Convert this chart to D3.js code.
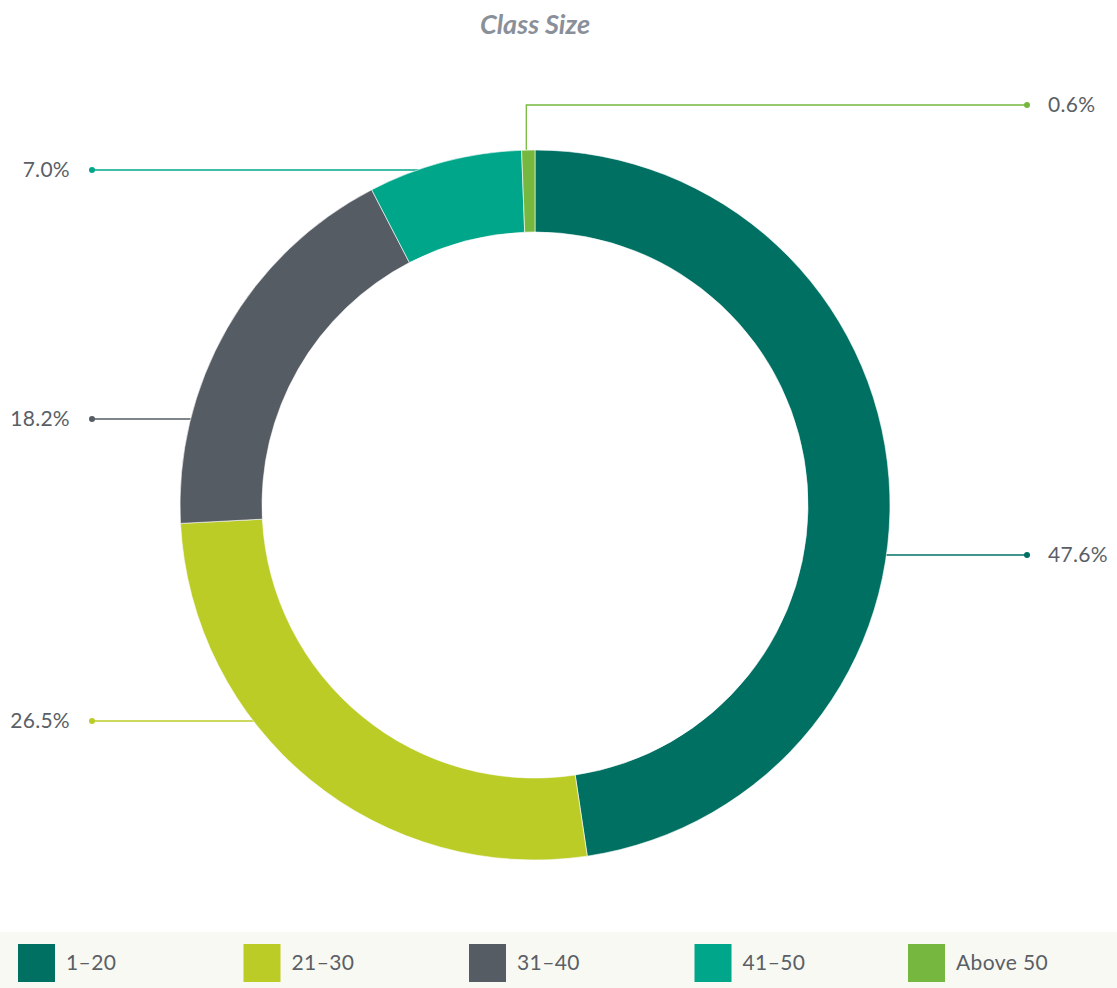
<!DOCTYPE html>
<html>
<head>
<meta charset="utf-8">
<script src="https://cdn.jsdelivr.net/npm/d3@7"></script>
<style>
  body { margin: 0; background: #fff; font-family: Lato, "Open Sans", sans-serif; }
  svg { display: block; }
</style>
</head>
<body>
<div id="chart"></div>
<script>
const categories = ['1–20', '21–30', '31–40', '41–50', 'Above 50'];
const values = [47.6, 26.5, 18.2, 7.0, 0.6];
const colors = ['#007063', '#bbcc27', '#565c63', '#00a68a', '#76b83f'];

// label placement (vertical offset from chart centre, side) — layout only
const labelDy = [50, 216, -86, -335, -400];
const labelSide = ['right', 'left', 'left', 'left', 'right'];

const width = 1117;
const height = 988;
const cx = 535;
const cy = 505;
const outerR = 355;
const innerR = 273;

const svg = d3.select('#chart').append('svg').attr('width', width).attr('height', height);

svg.append('text')
  .attr('x', 535)
  .attr('y', 34)
  .attr('text-anchor', 'middle')
  .attr('font-size', 27)
  .attr('font-weight', 700)
  .attr('font-style', 'italic')
  .attr('fill', '#8a9099')
  .text('Class Size');

const data = categories.map((c, i) => ({ cat: c, value: values[i], color: colors[i], i }));

const pie = d3.pie().sort(null).value((d) => d.value);
const arcs = pie(data);
const arc = d3.arc().innerRadius(innerR).outerRadius(outerR);

const g = svg.append('g').attr('transform', `translate(${cx},${cy})`);

// leader lines first so the ring sits on top
const lines = g.append('g');
arcs.forEach((a) => {
  const i = a.data.i;
  const col = a.data.color;
  const side = labelSide[i];
  const dotX = side === 'right' ? 1027 - cx : 92 - cx;
  const ly = labelDy[i];
  let pts;
  if (Math.abs(ly) > outerR) {
    // elbow: rise from slice middle on the outer edge
    const mid = (a.startAngle + a.endAngle) / 2;
    const ex = outerR * Math.sin(mid) - 2;
    const ey = -outerR * Math.cos(mid);
    pts = [[ex, ey], [ex, ly], [dotX, ly]];
  } else {
    const ex = Math.sqrt(outerR * outerR - ly * ly) * (side === 'right' ? 1 : -1);
    pts = [[ex * 0.97, ly], [dotX, ly]];
  }
  lines.append('path')
    .attr('d', d3.line()(pts))
    .attr('fill', 'none')
    .attr('stroke', col)
    .attr('stroke-width', 1.3);
  lines.append('circle')
    .attr('cx', dotX)
    .attr('cy', ly)
    .attr('r', 3)
    .attr('fill', col);
  lines.append('text')
    .attr('x', side === 'right' ? dotX + 21 : dotX - 22)
    .attr('y', ly)
    .attr('dy', '0.35em')
    .attr('text-anchor', side === 'right' ? 'start' : 'end')
    .attr('font-size', 21)
    .attr('letter-spacing', 0.3)
    .attr('fill', '#5a5f66')
    .text(a.data.value.toFixed(1) + '%');
});

g.selectAll('path.slice')
  .data(arcs)
  .enter()
  .append('path')
  .attr('class', 'slice')
  .attr('d', arc)
  .attr('fill', (d) => d.data.color)
  .attr('stroke', '#fff')
  .attr('stroke-width', 0.6);

// legend band
const legendY = 932;
svg.append('rect')
  .attr('x', 0)
  .attr('y', legendY)
  .attr('width', width)
  .attr('height', height - legendY)
  .attr('fill', '#f8f9f2');

const legendX = d3.scalePoint().domain(categories).range([18, 908]);
const item = svg.append('g')
  .selectAll('g')
  .data(data)
  .enter()
  .append('g')
  .attr('transform', (d) => `translate(${legendX(d.cat) + (d.i === 4 ? 0 : d.i * 3)},${legendY + 12})`);

item.append('rect')
  .attr('width', 37)
  .attr('height', 38)
  .attr('fill', (d) => d.color);

item.append('text')
  .attr('x', 48)
  .attr('y', 19)
  .attr('dy', '0.35em')
  .attr('font-size', 21)
  .attr('letter-spacing', 0.4)
  .attr('fill', '#5a5f66')
  .text((d) => d.cat);
</script>
</body>
</html>
